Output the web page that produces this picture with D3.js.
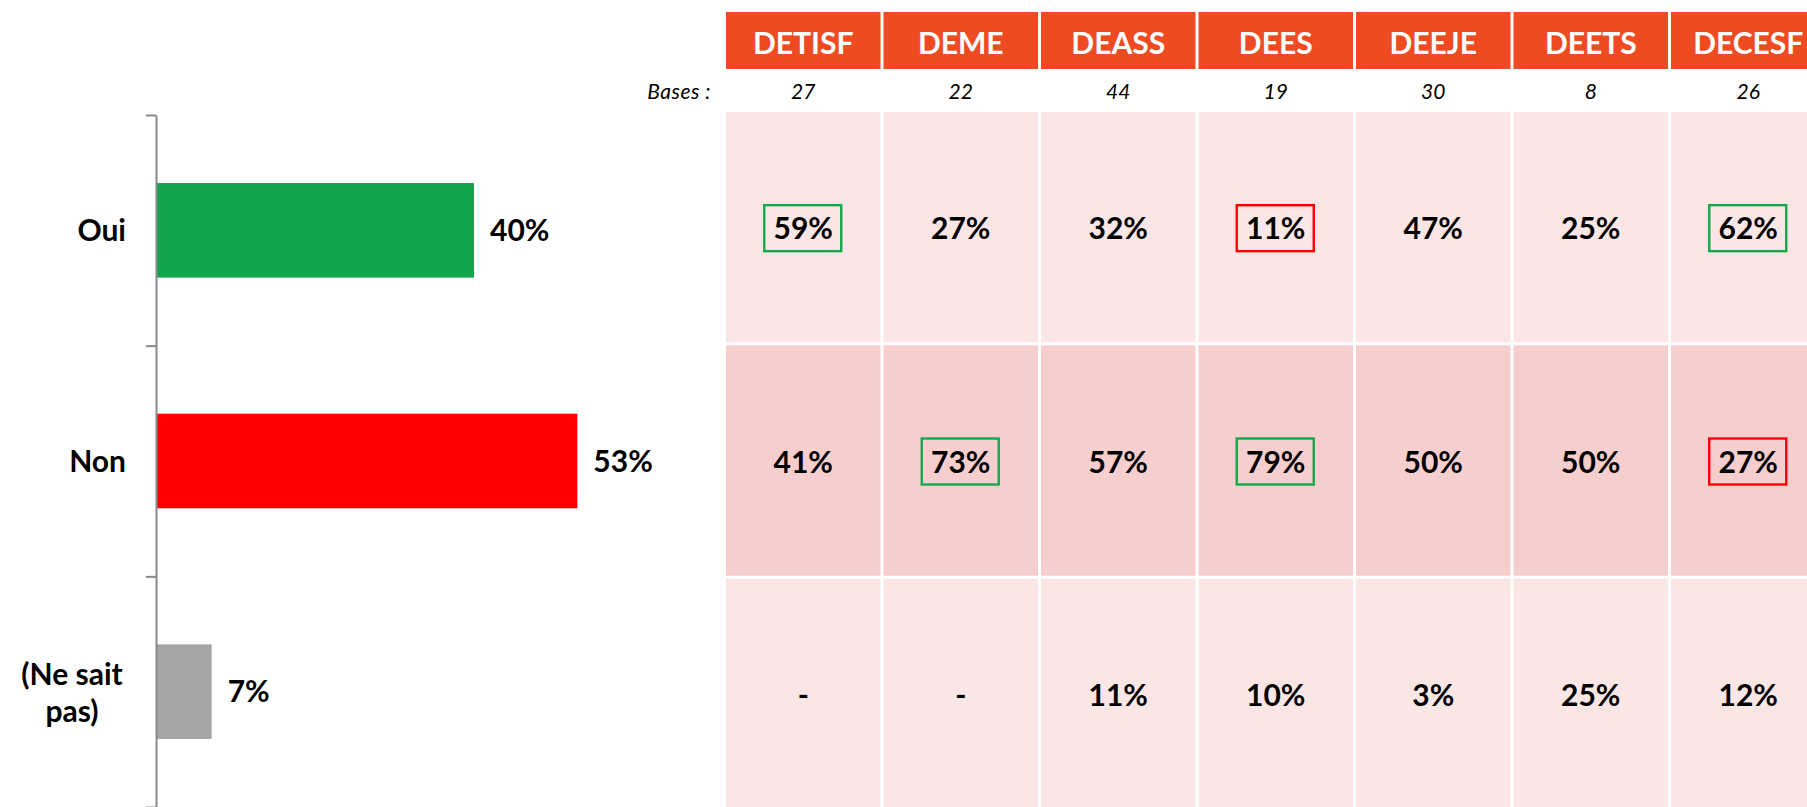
<!DOCTYPE html>
<html lang="fr">

<head>
  <meta charset="UTF-8">
  <title>Oui / Non par département</title>
  <script src="https://cdn.jsdelivr.net/npm/d3@7"></script>
  <style>
    html, body {
      margin: 0;
      padding: 0;
      background: #ffffff;
    }

    svg text {
      font-family: Lato, "Open Sans", sans-serif;
      fill: #000000;
    }

    .catLabel,
    .barValue,
    .cellValue {
      font-weight: bold;
      font-size: 30px;
    }

    .headText {
      font-weight: bold;
      font-size: 30px;
      fill: #ffffff;
    }

    .baseText {
      font-style: italic;
      font-size: 21px;
    }

    .axis path,
    .axis line {
      stroke: #898989;
      stroke-width: 2px;
    }
  </style>
</head>

<body>
  <div class="chart"></div>

  <script type="text/javascript">
    // chart data
    const categories = ["Oui", "Non", "(Ne sait pas)"];
    const totals = [40, 53, 7];
    const barColors = ["#12A54B", "#FF0000", "#A6A6A6"];

    const groups = ["DETISF", "DEME", "DEASS", "DEES", "DEEJE", "DEETS", "DECESF"];
    const bases = [27, 22, 44, 19, 30, 8, 26];
    const ouiValues = [59, 27, 32, 11, 47, 25, 62];
    const nonValues = [41, 73, 57, 79, 50, 50, 27];
    const nspValues = [null, null, 11, 10, 3, 25, 12];
    // "+" = significantly higher (green box), "-" = lower (red box)
    const ouiFlags = ["+", "", "", "-", "", "", "+"];
    const nonFlags = ["", "+", "", "+", "", "", "-"];
    const nspFlags = ["", "", "", "", "", "", ""];

    const rowValues = [ouiValues, nonValues, nspValues];
    const rowFlags = [ouiFlags, nonFlags, nspFlags];
    const rowFill = ["#FAE6E5", "#F6CECD", "#FAE6E5"];

    const width = 1807,
      height = 807;

    const svg = d3
      .select(".chart")
      .append("svg")
      .attr("width", width)
      .attr("height", height);

    //left bar chart
    const x = d3.scaleLinear().domain([0, 100]).range([156, 951]);
    const y = d3.scaleBand().domain(categories).range([115, 807]).paddingInner(0.59).paddingOuter(0.295);
    const yEdges = d3.scaleLinear().domain([0, 3]).range([115, 807]);

    svg.selectAll(".bar")
      .data(categories)
      .enter()
      .append("rect")
      .attr("class", "bar")
      .attr("x", x(0))
      .attr("y", d => y(d))
      .attr("width", (d, i) => x(totals[i]) - x(0))
      .attr("height", y.bandwidth())
      .attr("fill", (d, i) => barColors[i]);

    svg.append("g")
      .attr("class", "axis")
      .attr("transform", `translate(${x(0)},0)`)
      .call(d3.axisLeft(yEdges).tickValues([0, 1, 2, 3]).tickSize(10).tickSizeOuter(0).tickFormat(""));

    svg.selectAll(".barValue")
      .data(categories)
      .enter()
      .append("text")
      .attr("class", "barValue")
      .attr("x", (d, i) => x(totals[i]) + 16)
      .attr("y", d => y(d) + y.bandwidth() / 2)
      .attr("dy", "0.36em")
      .text((d, i) => totals[i] + "%");

    // category labels, long one wraps on two lines
    const catLabels = svg.selectAll(".catLabel")
      .data(categories)
      .enter()
      .append("text")
      .attr("class", "catLabel")
      .attr("y", d => y(d) + y.bandwidth() / 2);

    catLabels.each(function(d) {
      const t = d3.select(this);
      if (d.length > 6) {
        const parts = ["(Ne sait", "pas)"];
        t.attr("text-anchor", "middle");
        parts.forEach((p, k) => {
          t.append("tspan")
            .attr("x", 72)
            .attr("dy", k === 0 ? "-0.22em" : "1.22em")
            .text(p);
        });
      } else {
        t.attr("text-anchor", "end")
          .attr("x", 126)
          .attr("dy", "0.36em")
          .text(d);
      }
    });

    //right table
    const col = d3.scaleBand().domain(groups).range([726, 1825.5]).paddingInner(0.019);
    const row = d3.scaleBand().domain(categories).range([112, 809]).paddingInner(0.0129);

    svg.selectAll(".head")
      .data(groups)
      .enter()
      .append("rect")
      .attr("class", "head")
      .attr("x", d => col(d))
      .attr("y", 12)
      .attr("width", col.bandwidth())
      .attr("height", 57)
      .attr("fill", "#EE4B23");

    svg.selectAll(".headText")
      .data(groups)
      .enter()
      .append("text")
      .attr("class", "headText")
      .attr("text-anchor", "middle")
      .attr("x", d => col(d) + col.bandwidth() / 2)
      .attr("y", 54)
      .text(d => d);

    svg.append("text")
      .attr("class", "baseText")
      .attr("text-anchor", "end")
      .attr("x", 711)
      .attr("y", 99)
      .attr("letter-spacing", "0.5px")
      .text("Bases :");

    svg.selectAll(".baseNum")
      .data(groups)
      .enter()
      .append("text")
      .attr("class", "baseText")
      .attr("text-anchor", "middle")
      .attr("x", d => col(d) + col.bandwidth() / 2)
      .attr("y", 99)
      .text((d, i) => bases[i]);

    const cells = [];
    categories.forEach((c, r) => {
      groups.forEach((g, i) => {
        cells.push({ cat: c, r: r, group: g, value: rowValues[r][i], flag: rowFlags[r][i] });
      });
    });

    svg.selectAll(".cell")
      .data(cells)
      .enter()
      .append("rect")
      .attr("class", "cell")
      .attr("x", d => col(d.group))
      .attr("y", d => row(d.cat))
      .attr("width", col.bandwidth())
      .attr("height", row.bandwidth())
      .attr("fill", d => rowFill[d.r]);

    svg.selectAll(".flagBox")
      .data(cells.filter(d => d.flag))
      .enter()
      .append("rect")
      .attr("class", "flagBox")
      .attr("x", d => col(d.group) + col.bandwidth() / 2 - 39)
      .attr("y", d => row(d.cat) + row.bandwidth() / 2 - 22)
      .attr("width", 77)
      .attr("height", 46)
      .attr("fill", "none")
      .attr("stroke-width", 2.4)
      .attr("stroke", d => d.flag === "+" ? "#13A84A" : "#FF0000");

    svg.selectAll(".cellValue")
      .data(cells)
      .enter()
      .append("text")
      .attr("class", "cellValue")
      .attr("text-anchor", "middle")
      .attr("x", d => col(d.group) + col.bandwidth() / 2)
      .attr("y", d => row(d.cat) + row.bandwidth() / 2)
      .attr("dy", "0.4em")
      .text(d => d.value === null ? "-" : d.value + "%");
  </script>
</body></html>
